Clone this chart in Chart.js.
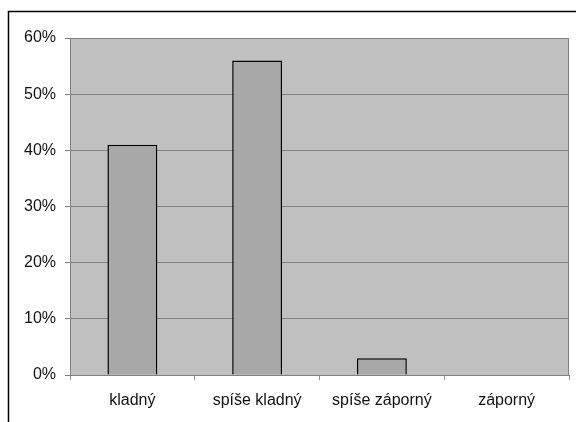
<!DOCTYPE html>
<html>
<head>
<meta charset="utf-8">
<script src="https://cdn.jsdelivr.net/npm/chart.js@4/dist/chart.umd.min.js"></script>
<style>
  html, body { margin: 0; padding: 0; background: #fff; }
  #wrap { width: 576px; height: 422px; position: relative; }
</style>
</head>
<body>
<div id="wrap"><canvas id="chart" width="576" height="422"></canvas></div>
<script>
// categories and values (percent)
const categories = ['kladný', 'spíše kladný', 'spíše záporný', 'záporný'];
const shares = [41, 56, 3, 0];
const yTicks = [0, 10, 20, 30, 40, 50, 60];

// plot background + the outer frame line
const backdrop = {
    id: 'backdrop',
    beforeDraw(chart) {
        const { ctx, chartArea: a } = chart;
        ctx.save();
        ctx.fillStyle = '#c0c0c0';
        ctx.fillRect(a.left, a.top, a.right - a.left, a.bottom - a.top);
        ctx.strokeStyle = '#000';
        ctx.lineWidth = 1.5;
        ctx.beginPath();
        ctx.moveTo(8.5, 422);
        ctx.lineTo(8.5, 11.5);
        ctx.lineTo(576, 11.5);
        ctx.stroke();
        ctx.restore();
    },
    afterDatasetsDraw(chart) {
        const { ctx, chartArea: a } = chart;
        ctx.save();
        ctx.strokeStyle = '#808080';
        ctx.lineWidth = 1;
        ctx.beginPath();
        ctx.moveTo(a.right - 0.5, a.top);
        ctx.lineTo(a.right - 0.5, a.bottom);
        ctx.stroke();
        ctx.restore();
    }
};

new Chart(document.getElementById('chart').getContext('2d'), {
    type: 'bar',
    data: {
        labels: categories,
        datasets: [{
            data: shares,
            backgroundColor: '#a8a8a8',
            borderColor: '#000',
            borderWidth: 1.5,
            barPercentage: 0.4,
            categoryPercentage: 1
        }]
    },
    options: {
        responsive: false,
        animation: false,
        layout: { padding: { left: 0, right: 7, top: 38, bottom: 0 } },
        plugins: {
            legend: { display: false },
            tooltip: { enabled: false }
        },
        scales: {
            x: {
                afterFit: s => { s.height = 47; },
                grid: {
                    offset: true,
                    drawOnChartArea: false,
                    color: '#909090',
                    tickLength: 5
                },
                border: { color: '#808080' },
                ticks: {
                    color: '#111',
                    padding: 11,
                    font: { family: 'Liberation Sans', size: 16 }
                }
            },
            y: {
                min: 0,
                max: 60,
                afterFit: s => { s.width = 70; },
                afterBuildTicks: s => { s.ticks = yTicks.map(v => ({ value: v })); },
                grid: { color: '#808080', tickLength: 5 },
                border: { color: '#808080' },
                ticks: {
                    color: '#111',
                    padding: 9,
                    font: { family: 'Liberation Sans', size: 16 },
                    callback: v => v + '%'
                }
            }
        }
    },
    plugins: [backdrop]
});
</script>
</body>
</html>
